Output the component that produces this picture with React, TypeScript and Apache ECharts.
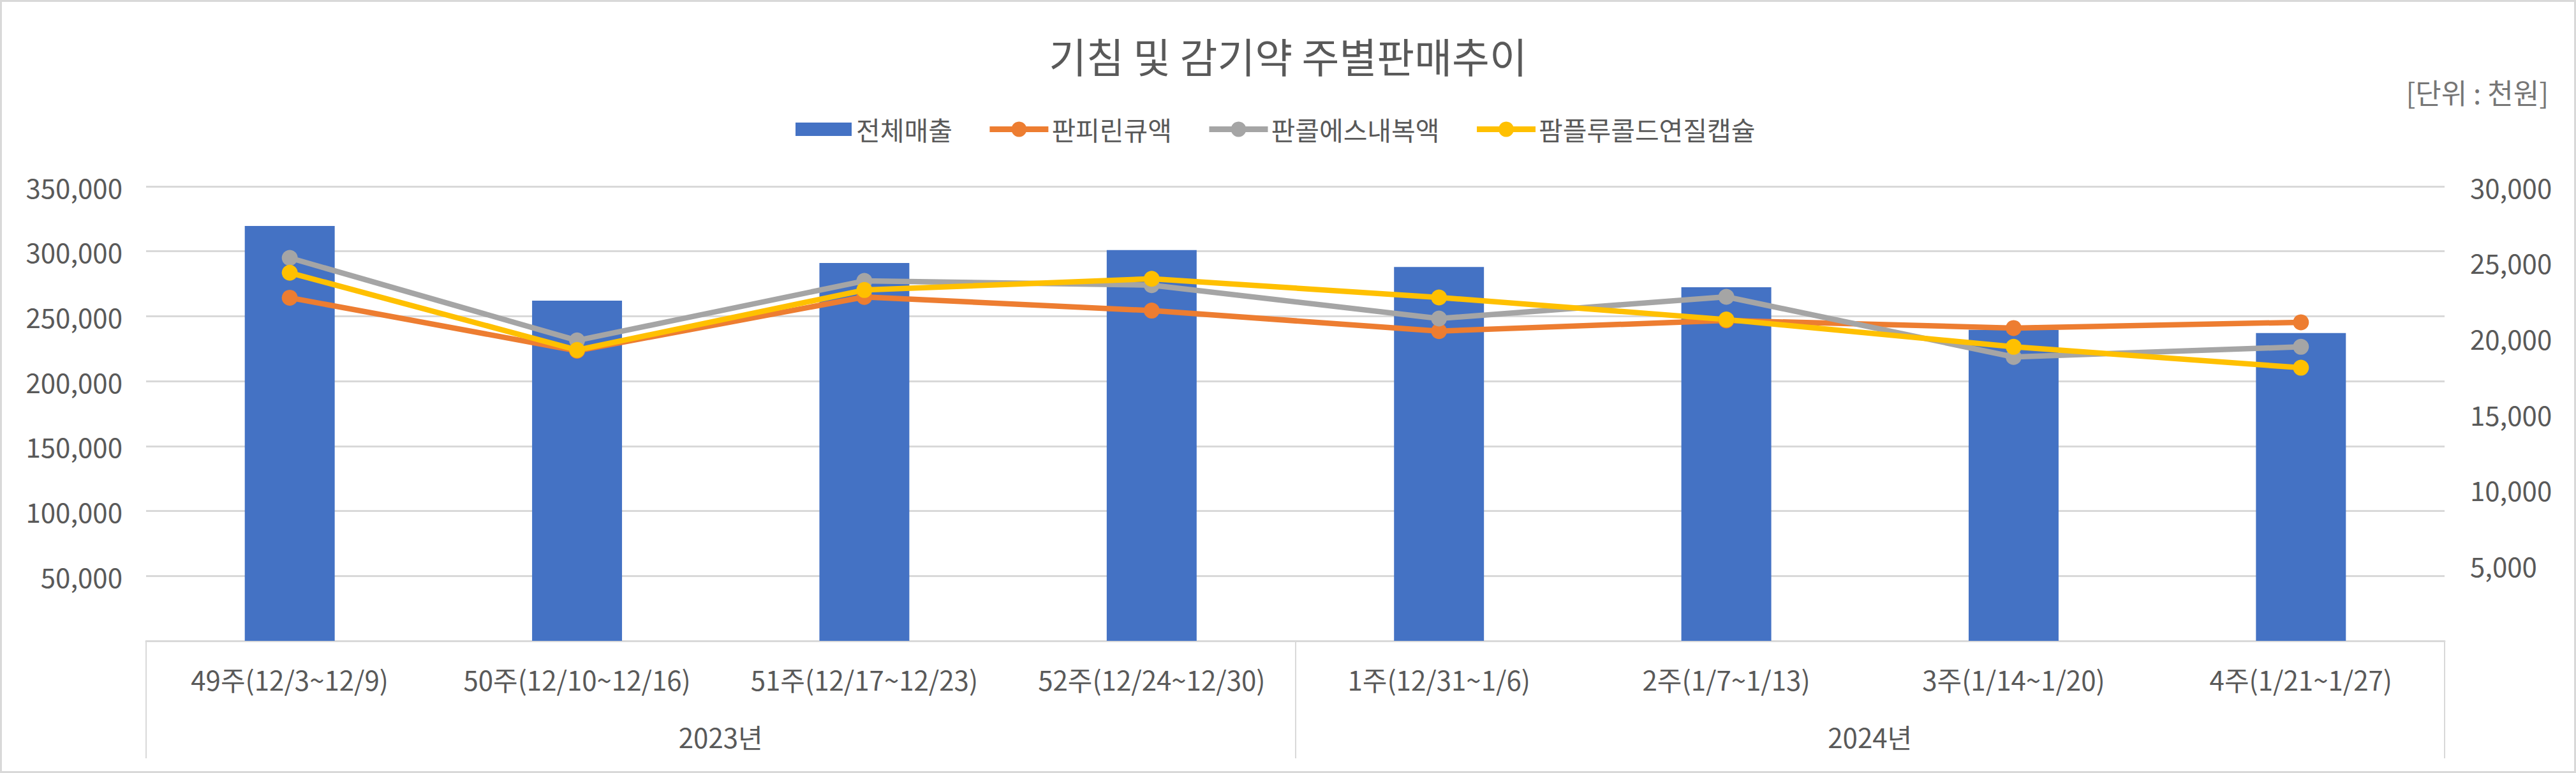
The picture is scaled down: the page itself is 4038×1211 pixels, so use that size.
import React, { useEffect, useRef } from 'react';
import * as echarts from 'echarts';

const weeks = [
  '49주(12/3~12/9)',
  '50주(12/10~12/16)',
  '51주(12/17~12/23)',
  '52주(12/24~12/30)',
  '1주(12/31~1/6)',
  '2주(1/7~1/13)',
  '3주(1/14~1/20)',
  '4주(1/21~1/27)',
];
const years = ['2023년', '2024년'];

const totalSales = [319500, 262000, 291000, 301000, 288000, 272300, 239500, 237000];
const panpirin = [22650, 19150, 22700, 21800, 20450, 21150, 20650, 21030];
const pancol = [25280, 19830, 23760, 23480, 21280, 22710, 18740, 19410];
const pamflu = [24300, 19200, 23160, 23900, 22670, 21210, 19410, 18030];

const leftAxisMin = 0;
const leftAxisMax = 350000;
const leftAxisStep = 50000;
const rightAxisMin = 0;
const rightAxisMax = 30000;
const rightAxisStep = 5000;

const TITLE = '기침 및 감기약 주별판매추이';
const UNIT = '[단위 : 천원]';
const seriesNames = ['전체매출', '판피린큐액', '판콜에스내복액', '팜플루콜드연질캡슐'];

const FONT = "'Noto Sans CJK KR', 'Noto Sans', sans-serif";
const TXT = '#595959';
const GRIDC = '#d9d9d9';

const fmt = (v: number) => (v === 0 ? '' : v.toLocaleString('en-US'));

export default function App() {
  const ref = useRef<HTMLDivElement>(null);
  useEffect(() => {
    if (!ref.current) return;
    const chart = echarts.init(ref.current, null, { renderer: 'svg' });
    const lineSeries = (name: string, data: number[], color: string) => ({
      name,
      type: 'line',
      yAxisIndex: 1,
      data,
      symbol: 'circle',
      symbolSize: 25,
      itemStyle: { color },
      lineStyle: { color, width: 8.5 },
    });
    chart.setOption({
      animation: false,
      backgroundColor: '#ffffff',
      textStyle: { fontFamily: FONT },
      title: {
        text: TITLE,
        left: 'center',
        top: 54,
        padding: 0,
        textStyle: { fontSize: 64, fontWeight: 'normal', color: TXT, fontFamily: FONT },
      },
      legend: {
        left: 1245,
        top: 182,
        padding: 0,
        itemWidth: 92,
        itemHeight: 30,
        itemGap: 54,
        lineStyle: { width: 9 },
        textStyle: { fontSize: 41, color: TXT, fontFamily: FONT },
        data: [
          { name: seriesNames[0], icon: 'path://M0,0 M92,30 M2,4.5 L90,4.5 L90,25.5 L2,25.5 Z' },
          { name: seriesNames[1] },
          { name: seriesNames[2] },
          { name: seriesNames[3] },
        ],
      },
      graphic: [
        {
          type: 'rect',
          shape: { x: 1.5, y: 1.5, width: 4035, height: 1208 },
          style: { fill: 'none', stroke: GRIDC, lineWidth: 3 },
          silent: true,
        },
        {
          type: 'text',
          right: 43,
          top: 122,
          style: { text: UNIT, fontSize: 44, fill: '#767676', fontFamily: FONT },
        },
      ],
      grid: { left: 229, right: 206, top: 292, bottom: 207 },
      xAxis: [
        {
          type: 'category',
          data: weeks,
          position: 'bottom',
          axisTick: { show: false },
          axisLine: { lineStyle: { color: GRIDC, width: 3 } },
          axisLabel: { margin: 38, fontSize: 42, color: TXT, fontFamily: FONT, interval: 0 },
        },
        {
          type: 'category',
          data: years,
          position: 'bottom',
          axisLine: { show: false },
          axisTick: { show: true, length: 184, lineStyle: { color: GRIDC, width: 2 } },
          axisLabel: { margin: 128, fontSize: 42, color: TXT, fontFamily: FONT },
          splitLine: { show: false },
        },
      ],
      yAxis: [
        {
          type: 'value',
          min: leftAxisMin,
          max: leftAxisMax,
          interval: leftAxisStep,
          axisLine: { show: false },
          axisTick: { show: false },
          splitLine: { lineStyle: { color: GRIDC, width: 3 } },
          axisLabel: { formatter: fmt, fontSize: 42, color: TXT, margin: 37, fontFamily: FONT },
        },
        {
          type: 'value',
          min: rightAxisMin,
          max: rightAxisMax,
          interval: rightAxisStep,
          position: 'right',
          axisLine: { show: false },
          axisTick: { show: false },
          splitLine: { show: false },
          axisLabel: { formatter: fmt, fontSize: 42, color: TXT, margin: 40, fontFamily: FONT },
        },
      ],
      series: [
        {
          name: seriesNames[0],
          type: 'bar',
          data: totalSales,
          barWidth: '31.3%',
          itemStyle: { color: '#4472C4' },
        },
        lineSeries(seriesNames[1], panpirin, '#ED7D31'),
        lineSeries(seriesNames[2], pancol, '#A5A5A5'),
        lineSeries(seriesNames[3], pamflu, '#FFC000'),
      ],
    });
    return () => chart.dispose();
  }, []);
  return (
    <div
      ref={ref}
      style={{ position: 'absolute', left: 0, top: 0, width: 4038, height: 1211, background: '#fff' }}
    />
  );
}
